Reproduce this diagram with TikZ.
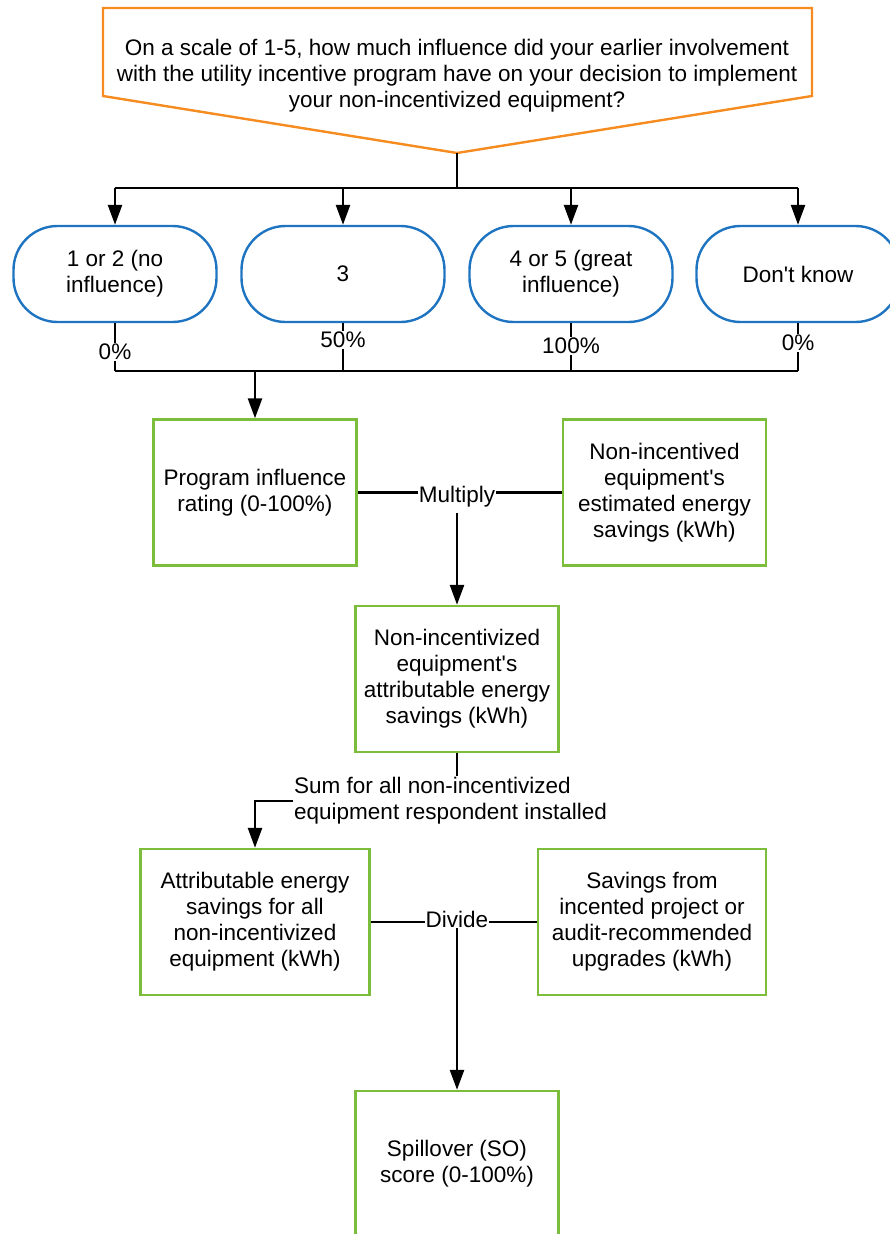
\documentclass[tikz,border=0pt]{standalone}
\usepackage{fontspec}
\setmainfont{Liberation Sans}
\usepackage{xcolor}
\usepackage{tikz}
\usetikzlibrary{positioning,arrows.meta,calc}
\definecolor{quest}{HTML}{F68B1F}
\definecolor{answer}{HTML}{1F74C2}
\definecolor{calcgreen}{HTML}{7CBD3C}

\begin{document}
\begin{tikzpicture}[x=1pt,y=-1pt,
  font=\fontsize{22.5}{26}\selectfont,
  link/.style={line width=2.6pt, black},
  arr/.style={link, -{Triangle[length=20pt,width=14pt]}},
  ansbox/.style={draw=answer, line width=2.4pt, rounded corners=44pt, minimum width=203pt, minimum height=96pt, align=center},
  calcbox/.style={draw=calcgreen, line width=2.4pt, minimum width=203pt, minimum height=146pt, align=center},
  pct/.style={fill=white, inner sep=1.5pt},
  oplabel/.style={fill=white, inner sep=1pt}]
\useasboundingbox (0,0) rectangle (890,1234);
% question
\draw[draw=quest, line width=2.4pt] (103,8) -- (812,8) -- (812,96) -- (457,153) -- (103,96) -- cycle;
\node[align=center] (q) at (457,76) {On a scale of 1-5, how much influence did your earlier involvement\\with the utility incentive program have on your decision to implement\\your non-incentivized equipment?};
\coordinate (qtip) at (457,153);
\coordinate (qbus) at (457,188);
% answers
\node[ansbox] (a1) at (115,274) {1 or 2 (no\\influence)};
\node[ansbox] (a2) at (343,274) {3};
\node[ansbox] (a3) at (571,274) {4 or 5 (great\\influence)};
\node[ansbox] (a4) at (798,274) {Don\textquotesingle t know};
\draw[link] (qtip) -- (qbus);
\draw[link] (a1.north |- qbus) -- (a4.north |- qbus);
\foreach \a in {a1,a2,a3,a4} \draw[arr] (\a.north |- qbus) -- (\a.north);
% weights
\coordinate (wbus) at (255,371);
\foreach \a in {a1,a2,a3,a4} \draw[link] (\a.south) -- (\a.south |- wbus);
\draw[link] (a1.south |- wbus) -- (a4.south |- wbus);
\node[pct] (w1) at (115,352) {0\%};
\node[pct] (w2) at (343,340) {50\%};
\node[pct] (w3) at (571,346) {100\%};
\node[pct] (w4) at (798,343) {0\%};
% multiply
\node[calcbox] (pir) at (255,492.5) {Program influence\\rating (0-100\%)};
\node[calcbox] (nie) at (664.5,492.5) {Non-incentived\\equipment\textquotesingle s\\estimated energy\\savings (kWh)};
\draw[arr] (wbus) -- (pir.north);
\draw[link] (pir) -- (nie);
\node[oplabel] (mul) at (457,497) {Multiply};
\node[calcbox] (nia) at (457,679) {Non-incentivized\\equipment\textquotesingle s\\attributable energy\\savings (kWh)};
\draw[arr] ([yshift=-4pt]mul.south) -- (nia.north);
% sum
\node[align=left, inner sep=1pt, anchor=west] (sum) at (293,801) {Sum for all non-incentivized\\equipment respondent installed};
\draw[link] (nia.south) -- (nia.south |- sum.north);
\node[calcbox, minimum width=229pt] (aes) at (255,922) {Attributable energy\\savings for all\\non-incentivized\\equipment (kWh)};
\node[calcbox, minimum width=228pt] (sav) at (652,922) {Savings from\\incented project or\\audit-recommended\\upgrades (kWh)};
\draw[arr] (sum.west) -| (aes.north);
% divide
\draw[link] (aes) -- (sav);
\node[oplabel] (div) at (457,919) {Divide};
\node[calcbox] (so) at (457,1164) {Spillover (SO)\\score (0-100\%)};
\draw[arr] (div.south) -- (so.north);
\end{tikzpicture}
\end{document}
